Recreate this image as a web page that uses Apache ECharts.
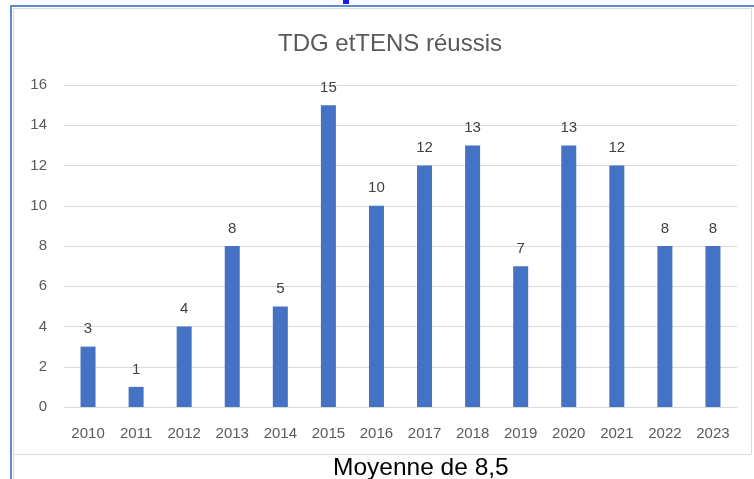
<!DOCTYPE html>
<html><head><meta charset="utf-8">
<script src="https://cdn.jsdelivr.net/npm/echarts@6/dist/echarts.min.js"></script>
<style>html,body{margin:0;padding:0;background:#fff;}#c{width:754px;height:479px;}</style>
</head><body><div id="c"></div>
<script>
const titleText = "TDG etTENS réussis";
const footerText = "Moyenne de 8,5";
const categories = ["2010","2011","2012","2013","2014","2015","2016","2017","2018","2019","2020","2021","2022","2023"];
const values = [3,1,4,8,5,15,10,12,13,7,13,12,8,8];
const yTicks = {min:0, max:16, interval:2};

const chart = echarts.init(document.getElementById('c'));
chart.setOption({
  animation:false,
  backgroundColor:'#fff',
  title:{text:titleText,left:273,top:27,textStyle:{fontFamily:'Liberation Sans',fontSize:24,fontWeight:'normal',color:'#595959'}},
  grid:{left:64,right:17,top:85,bottom:72},
  xAxis:{type:'category',data:categories,
    axisLine:{lineStyle:{color:'#d9d9d9',width:1}},axisTick:{show:false},
    axisLabel:{color:'#595959',fontSize:15,fontFamily:'Liberation Sans',margin:19}},
  yAxis:{type:'value',min:yTicks.min,max:yTicks.max,interval:yTicks.interval,
    axisLine:{show:false},axisTick:{show:false},
    splitLine:{lineStyle:{color:'#d9d9d9',width:1}},
    axisLabel:{color:'#595959',fontSize:15,fontFamily:'Liberation Sans',margin:17}},
  series:[{type:'bar',data:values,barWidth:15,itemStyle:{color:'#4472C4'},
    label:{show:true,position:'top',distance:10,color:'#404040',fontSize:15,fontFamily:'Liberation Sans'}}],
  graphic:[
    {type:'rect',shape:{x:13.5,y:8.5,width:738,height:446},style:{fill:'none',stroke:'#d9d9d9',lineWidth:1},z:-1},
    {type:'line',shape:{x1:10,y1:6,x2:754,y2:6},style:{stroke:'#5b8bd0',lineWidth:2}},
    {type:'line',shape:{x1:11,y1:5,x2:11,y2:479},style:{stroke:'#5b8bd0',lineWidth:2}},
    {type:'line',shape:{x1:13.5,y1:455,x2:13.5,y2:479},style:{stroke:'#d9d9d9',lineWidth:1}},
    {type:'rect',shape:{x:343,y:0,width:6,height:4},style:{fill:'#1a1aff'}},
    {type:'text',left:333,top:456,style:{text:footerText,fontFamily:'Liberation Sans',fontSize:24.5,fill:'#000'}}
  ]
});
</script></body></html>
